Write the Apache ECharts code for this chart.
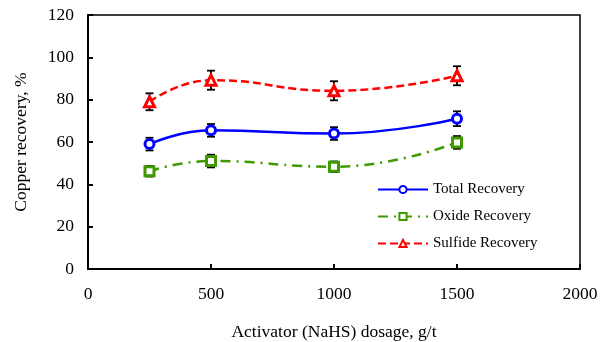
<!DOCTYPE html>
<html><head><meta charset="utf-8">
<script src="https://cdn.jsdelivr.net/npm/echarts@6/dist/echarts.min.js"></script>
<style>html,body{margin:0;padding:0;background:#fff}#c{width:606px;height:342px}</style>
</head><body><div id="c"></div>
<script>
const dosage = [250, 500, 1000, 1500];
const totalRecovery = [59, 65.5, 64, 71];
const oxideRecovery = [46.2, 51, 48.3, 59.8];
const sulfideRecovery = [79, 89.2, 84.2, 91.3];
const totalErr = [3, 3, 3, 3.5];
const oxideErr = [2.5, 3, 2.5, 3];
const sulfideErr = [4, 4.5, 4.5, 4.5];
const xTicks = [0, 500, 1000, 1500, 2000];
const yTicks = [0, 20, 40, 60, 80, 100, 120];

const F = 'Liberation Serif, Times New Roman, serif';
function pairs(v){ return dosage.map((d,i)=>[d, v[i]]); }
function errData(v,e){ return dosage.map((d,i)=>[d, v[i]-e[i], v[i]+e[i]]); }
function errSeries(v,e){
  return {type:'custom', silent:true, z:1, data:errData(v,e),
    renderItem:function(params, api){
      const x=api.value(0), lo=api.coord([x,api.value(1)]), hi=api.coord([x,api.value(2)]);
      const w=4, st={stroke:'#000', lineWidth:1.8};
      return {type:'group', children:[
        {type:'line', shape:{x1:lo[0],y1:lo[1],x2:hi[0],y2:hi[1]}, style:st},
        {type:'line', shape:{x1:lo[0]-w,y1:lo[1],x2:lo[0]+w,y2:lo[1]}, style:st},
        {type:'line', shape:{x1:hi[0]-w,y1:hi[1],x2:hi[0]+w,y2:hi[1]}, style:st}
      ]};
    }};
}
const chart = echarts.init(document.getElementById('c'));
chart.setOption({
  animation:false,
  backgroundColor:'#fff',
  grid:{left:88, right:26, top:15, bottom:73, show:true, borderColor:'#000', borderWidth:1.5,
    containLabel:false, outerBoundsMode:'none'},
  xAxis:{type:'value', min:0, max:2000, interval:500,
    name:'Activator (NaHS) dosage, g/t', nameLocation:'middle', nameGap:54,
    nameTextStyle:{fontFamily:F, fontSize:17.5, color:'#000'},
    axisLine:{lineStyle:{color:'#000', width:2}},
    axisTick:{inside:true, length:5, lineStyle:{color:'#000', width:2}},
    axisLabel:{fontFamily:F, fontSize:17.5, color:'#000', margin:16,
      formatter:v=> xTicks.includes(v)? String(v):''},
    splitLine:{show:false}},
  yAxis:{type:'value', min:0, max:120, interval:20,
    name:'Copper recovery, %', nameLocation:'middle', nameGap:58,
    nameTextStyle:{fontFamily:F, fontSize:17.5, color:'#000'},
    axisLine:{lineStyle:{color:'#000', width:2}},
    axisTick:{inside:true, length:5, lineStyle:{color:'#000', width:2}},
    axisLabel:{fontFamily:F, fontSize:17.5, color:'#000', margin:14,
      formatter:v=> yTicks.includes(v)? String(v):''},
    splitLine:{show:false}},
  legend:{orient:'vertical', left:372, top:177, itemGap:12, itemWidth:50, itemHeight:9,
    textStyle:{fontFamily:F, fontSize:15, color:'#000', padding:[0,0,0,0]},
    data:['Total Recovery','Oxide Recovery','Sulfide Recovery']},
  series:[
    errSeries(totalRecovery,totalErr),
    errSeries(oxideRecovery,oxideErr),
    errSeries(sulfideRecovery,sulfideErr),
    {name:'Total Recovery', type:'line', smooth:true, z:3, data:pairs(totalRecovery),
      symbol:'circle', symbolSize:9, color:'#0000ff',
      lineStyle:{color:'#0000ff', width:2.5},
      itemStyle:{color:'#fff', borderColor:'#0000ff', borderWidth:3}},
    {name:'Oxide Recovery', type:'line', smooth:true, z:3, data:pairs(oxideRecovery),
      symbol:'rect', symbolSize:9, color:'#3f9a00',
      lineStyle:{color:'#3f9a00', width:2.5, type:[10,6,2,6]},
      itemStyle:{color:'#fff', borderColor:'#3f9a00', borderWidth:3}},
    {name:'Sulfide Recovery', type:'line', smooth:true, z:3, data:pairs(sulfideRecovery),
      symbol:'triangle', symbolSize:10, color:'#ff0000',
      lineStyle:{color:'#ff0000', width:2.5, type:[8,4]},
      itemStyle:{color:'#fff', borderColor:'#ff0000', borderWidth:3}}
  ]
});
</script></body></html>
